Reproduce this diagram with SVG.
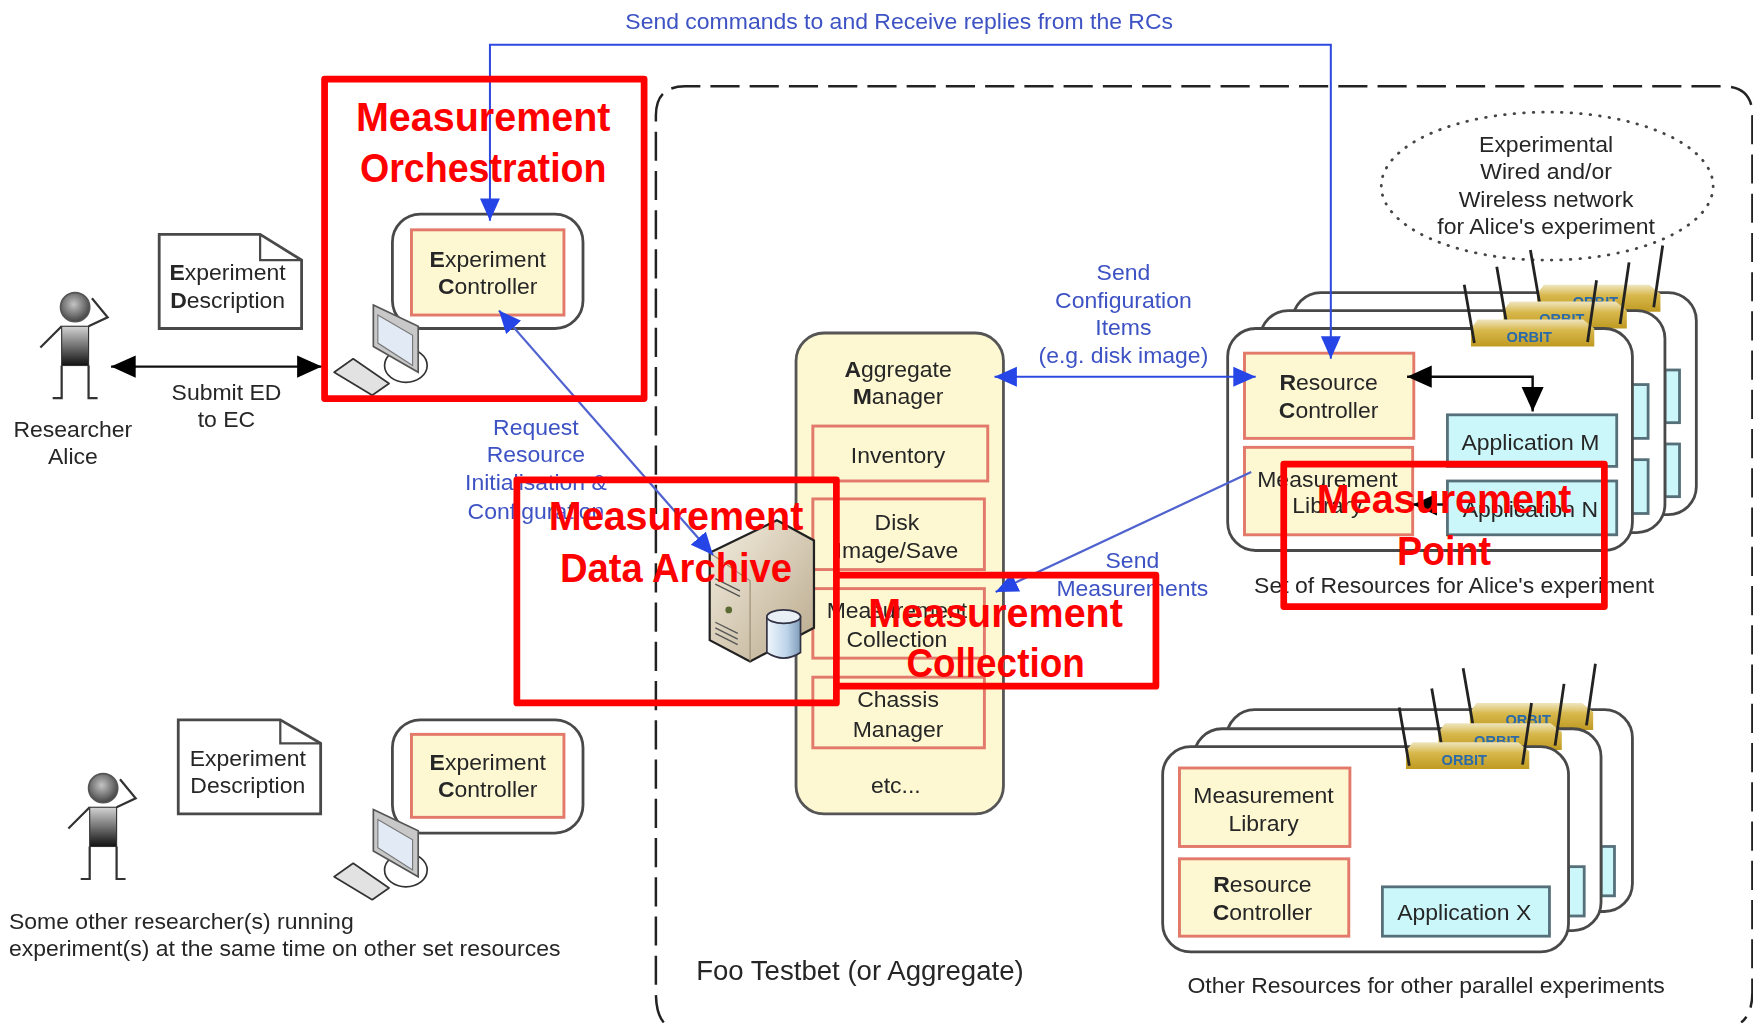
<svg xmlns="http://www.w3.org/2000/svg" width="1758" height="1023" viewBox="0 0 1758 1023">
<style>
text{font-family:"Liberation Sans",Arial,sans-serif;text-anchor:middle}
.t{font-size:20.500px;fill:#262626}
.l{font-size:20.500px;fill:#262626;text-anchor:start}
.b{font-size:20.500px;fill:#3d52c4}
.r{font-size:37px;font-weight:bold;fill:#f00}
.h{font-weight:bold}
.y{fill:#fdf8d2;stroke:#e2796a;stroke-width:2.600}
.c{fill:#ccf7fa;stroke:#56707a;stroke-width:2.500}
.w{fill:#fff;stroke:#4a4a4a;stroke-width:2.500}
.rb{fill:none;stroke:#f00;stroke-width:6;stroke-linejoin:round}
.bl{fill:none;stroke:#2f4ae0;stroke-width:1.800}
.bd{fill:none;stroke:#4f62d0;stroke-width:2}
.k{fill:none;stroke:#111;stroke-width:2.200}
.o{font-size:13px;font-weight:bold;fill:#2a6aa8}
</style>
<defs>
<filter id="soft" x="0" y="0" width="100%" height="100%"><feGaussianBlur stdDeviation="0.550"/></filter>
<marker id="ab" markerUnits="userSpaceOnUse" markerWidth="20" markerHeight="20" viewBox="0 0 18 18" refX="18" refY="9" orient="auto-start-reverse"><path d="M0,1L18,9L0,17Z" fill="#2544e6"/></marker>
<marker id="ak" markerUnits="userSpaceOnUse" markerWidth="22" markerHeight="22" viewBox="0 0 20 20" refX="20" refY="10" orient="auto-start-reverse"><path d="M0,1L20,10L0,19Z" fill="#000"/></marker>
<linearGradient id="gb" x1="0" y1="0" x2="0" y2="1"><stop offset="0" stop-color="#d4d4d4"/><stop offset="1" stop-color="#111"/></linearGradient>
<radialGradient id="gh" cx=".45" cy=".4" r=".6"><stop offset="0" stop-color="#c4c4c4"/><stop offset="1" stop-color="#444"/></radialGradient>
<linearGradient id="gs" x1="0" y1="0" x2="1" y2="1"><stop offset="0" stop-color="#f4eee0"/><stop offset="1" stop-color="#b9a98c"/></linearGradient>
<linearGradient id="gc" x1="0" y1="0" x2="1" y2="0"><stop offset="0" stop-color="#f0f6fb"/><stop offset=".6" stop-color="#bcd4ea"/><stop offset="1" stop-color="#7f9cb8"/></linearGradient>
<linearGradient id="gr" x1="0" y1="0" x2="0" y2="1"><stop offset="0" stop-color="#efe6c0"/><stop offset=".4" stop-color="#d8b84c"/><stop offset="1" stop-color="#bf9a22"/></linearGradient>
<g id="person">
<circle cx="67" cy="274" r="13" fill="url(#gh)" stroke="#555" stroke-width="1.500"/>
<path d="M55,291L36,310M79,291L96,283L82,266M55,326V355H47M79,326V355H87" fill="none" stroke="#333" stroke-width="2"/>
<rect x="55" y="291" width="24" height="35" fill="url(#gb)" stroke="#333" stroke-width="1"/>
</g>
<g id="computer">
<ellipse cx="362" cy="326" rx="19" ry="15" fill="#fff" stroke="#333" stroke-width="1.500"/>
<path d="M333,272L373,291V332L333,309Z" fill="#c8c8c8" stroke="#555" stroke-width="1.500"/>
<path d="M337,281L368,299V326L337,306Z" fill="#e2eaf6" stroke="#777"/>
<path d="M298,332L315,320L347,342L332,352.500Z" fill="#e2e2e2" stroke="#333" stroke-width="1.500" stroke-linejoin="round"/>
</g>
<g id="router">
<path d="M6,0H100L110,8V24H0V8Z" fill="url(#gr)"/>
<text class="o" x="52" y="20">ORBIT</text>
<path d="M-6,-31L3,21M112,-35L104,20" fill="none" stroke="#222" stroke-width="2.500"/>
</g>
</defs>
<rect width="1758" height="1023" fill="#fff"/>
<g transform="scale(1.12117)">
<g filter="url(#soft)">

<g id="testbed"><path d="M592,912Q585,904 585,885V103Q585,77 611,77H1537Q1563,77 1563,103V885Q1563,904 1553,912" fill="none" stroke="#222" stroke-width="2.200" stroke-dasharray="26 9"/>
<text class="t" style="font-size:24.600px" x="767" y="874">Foo Testbet (or Aggregate)</text></g>

<g id="alice"><use href="#person"/><text class="t" x="65" y="390">Researcher</text><text class="t" x="65" y="414">Alice</text></g>
<g id="ed1"><path d="M142,209H232L269,232V293H142Z" fill="#fff" stroke="#4a4a4a" stroke-width="2.500"/><path d="M232,209V232H269" fill="none" stroke="#4a4a4a" stroke-width="2"/><text class="t" x="203" y="250"><tspan class="h">E</tspan>xperiment</text><text class="t" x="203" y="275"><tspan class="h">D</tspan>escription</text></g>
<g id="ec1"><rect class="w" x="350" y="191" width="170" height="102" rx="25"/><rect class="y" x="367" y="205" width="136" height="76"/><text class="t" x="435" y="238"><tspan class="h">E</tspan>xperiment</text><text class="t" x="435" y="262"><tspan class="h">C</tspan>ontroller</text><use href="#computer"/></g>
<g id="other"><use href="#person" x="25" y="429"/><text class="l" x="8" y="829">Some other researcher(s) running</text><text class="l" x="8" y="853">experiment(s) at the same time on other set resources</text></g>
<g id="ed2"><path d="M159,642H250L286,663V726H159Z" fill="#fff" stroke="#4a4a4a" stroke-width="2.500"/><path d="M250,642V663H286" fill="none" stroke="#4a4a4a" stroke-width="2"/><text class="t" x="221" y="683">Experiment</text><text class="t" x="221" y="707">Description</text></g>
<g id="ec2"><rect class="w" x="350" y="642" width="170" height="101" rx="25"/><rect class="y" x="367" y="655" width="136" height="74"/><text class="t" x="435" y="687"><tspan class="h">E</tspan>xperiment</text><text class="t" x="435" y="711"><tspan class="h">C</tspan>ontroller</text><use href="#computer" y="450"/></g>

<g id="am"><rect x="710" y="297" width="185" height="429" rx="25" fill="#fdf8d2" stroke="#555" stroke-width="2.500"/>
<text class="t" x="801" y="336"><tspan class="h">A</tspan>ggregate</text><text class="t" x="801" y="360"><tspan class="h">M</tspan>anager</text>
<rect class="y" x="725" y="380" width="156" height="49"/><text class="t" x="801" y="413">Inventory</text>
<rect class="y" x="725" y="445" width="153" height="63"/><text class="t" x="800" y="473">Disk</text><text class="t" x="800" y="498">Image/Save</text>
<rect class="y" x="725" y="525" width="153" height="62"/><text class="t" x="800" y="551">Measurement</text><text class="t" x="800" y="577">Collection</text>
<rect class="y" x="725" y="604" width="153" height="63"/><text class="t" x="801" y="631">Chassis</text><text class="t" x="801" y="657">Manager</text>
<text class="t" x="799" y="707">etc...</text></g>

<g id="server"><path d="M633,493L693,464L726,482V560L669,590L633,571Z" fill="url(#gs)" stroke="#222" stroke-width="2"/>
<path d="M633,493L669,518V590" fill="none" stroke="#9a8b72" stroke-width="1"/>
<path d="M638,516L660,527M638,521L660,532M638,565L658,575M638,560L658,570M638,555L658,565" stroke="#555" stroke-width="1.200"/>
<circle cx="650" cy="544" r="3" fill="#5a6a30"/>
<path d="M684,550V582Q699,592 714,582V550Z" fill="url(#gc)" stroke="#334" stroke-width="1.500"/><ellipse cx="699" cy="550" rx="15" ry="6" fill="#e8f0f6" stroke="#334" stroke-width="1.500"/></g>

<g id="net"><ellipse cx="1380" cy="166" rx="148" ry="66" fill="none" stroke="#444" stroke-width="2.500" stroke-linecap="round" stroke-dasharray="0.500 8"/>
<text class="t" x="1379" y="136">Experimental</text><text class="t" x="1379" y="160">Wired and/or</text><text class="t" x="1379" y="185">Wireless network</text><text class="t" x="1379" y="209">for Alice's experiment</text></g>

<g id="set-back"><rect class="w" x="1153" y="261" width="360" height="198" rx="25"/><rect class="c" x="1485" y="330" width="13" height="47"/><rect class="c" x="1485" y="396" width="13" height="47"/><use href="#router" x="1371" y="254"/></g>
<g id="set-mid"><rect class="w" x="1124" y="277" width="361" height="198" rx="25"/><rect class="c" x="1455" y="343" width="15" height="48"/><rect class="c" x="1455" y="410" width="15" height="48"/><use href="#router" x="1341" y="269"/></g>
<g id="set-front"><rect class="w" x="1095" y="293" width="361" height="198" rx="25"/><use href="#router" x="1312" y="285"/>
<rect class="y" x="1110" y="315" width="151" height="76"/><text class="t" x="1185" y="348"><tspan class="h">R</tspan>esource</text><text class="t" x="1185" y="373"><tspan class="h">C</tspan>ontroller</text>
<rect class="y" x="1110" y="399" width="150" height="78"/><text class="t" x="1184" y="434">Measurement</text><text class="t" x="1184" y="458">Library</text>
<rect class="c" x="1291" y="370" width="151" height="46"/><text class="t" x="1365" y="401">Application M</text>
<rect class="c" x="1291" y="429" width="151" height="48"/><text class="t" x="1365" y="461">Application N</text>
<text class="t" x="1297" y="529">Set of Resources for Alice's experiment</text></g>

<g id="par-back"><rect class="w" x="1094" y="633" width="362" height="180" rx="25"/><rect class="c" x="1428" y="755" width="12" height="44"/><use href="#router" x="1311" y="627"/></g>
<g id="par-mid"><rect class="w" x="1065" y="650" width="363" height="180" rx="25"/><rect class="c" x="1399" y="773" width="14" height="44"/><use href="#router" x="1283" y="645"/></g>
<g id="par-front"><rect class="w" x="1037" y="666" width="362" height="183" rx="25"/><use href="#router" x="1254" y="662"/>
<rect class="y" x="1052" y="685" width="152" height="70"/><text class="t" x="1127" y="716">Measurement</text><text class="t" x="1127" y="741">Library</text>
<rect class="y" x="1052" y="766" width="151" height="69"/><text class="t" x="1126" y="796"><tspan class="h">R</tspan>esource</text><text class="t" x="1126" y="821"><tspan class="h">C</tspan>ontroller</text>
<rect class="c" x="1233" y="791" width="149" height="44"/><text class="t" x="1306" y="821">Application X</text>
<text class="t" x="1272" y="886">Other Resources for other parallel experiments</text></g>

<g id="connectors">
<path class="bl" d="M437,197V40H1187V320" marker-start="url(#ab)" marker-end="url(#ab)"/>
<path class="bd" d="M445,277L636,495" marker-start="url(#ab)" marker-end="url(#ab)"/>
<path class="bl" d="M887,336H1120" marker-start="url(#ab)" marker-end="url(#ab)"/>
<path class="bd" d="M1116,421L888,528" marker-end="url(#ab)"/>
<path class="k" d="M99,327H287" marker-start="url(#ak)" marker-end="url(#ak)"/>
<path class="k" d="M1255,336H1367V367" marker-start="url(#ak)" marker-end="url(#ak)"/>
<path class="k" d="M1291,450H1260" marker-end="url(#ak)"/>
</g>

<g id="labels">
<text class="b" x="802" y="26">Send commands to and Receive replies from the RCs</text>
<text class="t" x="202" y="357">Submit ED</text><text class="t" x="202" y="381">to EC</text>
<text class="b" x="478" y="388">Request</text><text class="b" x="478" y="412">Resource</text><text class="b" x="478" y="437">Initialisation &amp;</text><text class="b" x="478" y="463">Configuration</text>
<text class="b" x="1002" y="250">Send</text><text class="b" x="1002" y="275">Configuration</text><text class="b" x="1002" y="299">Items</text><text class="b" x="1002" y="324">(e.g. disk image)</text>
<text class="b" x="1010" y="507">Send</text><text class="b" x="1010" y="532">Measurements</text>
</g>
</g>

<g id="mo"><rect class="rb" x="289.500" y="70.500" width="285" height="285"/><text class="r" x="431" y="117" textLength="227" lengthAdjust="spacingAndGlyphs">Measurement</text><text class="r" x="431" y="162" textLength="220" lengthAdjust="spacingAndGlyphs">Orchestration</text></g>
<g id="mda"><rect class="rb" x="461" y="428" width="285" height="199"/><text class="r" x="603" y="473" textLength="227" lengthAdjust="spacingAndGlyphs">Measurement</text><text class="r" x="603" y="519" textLength="207" lengthAdjust="spacingAndGlyphs">Data Archive</text></g>
<g id="mc"><path class="rb" d="M746,513H1031V612H746"/><text class="r" x="888" y="559" textLength="227" lengthAdjust="spacingAndGlyphs">Measurement</text><text class="r" x="888" y="604" textLength="159" lengthAdjust="spacingAndGlyphs">Collection</text></g>
<g id="mp"><rect class="rb" x="1145" y="414" width="286" height="127"/><text class="r" x="1288" y="458" textLength="227" lengthAdjust="spacingAndGlyphs">Measurement</text><text class="r" x="1288" y="504" textLength="84" lengthAdjust="spacingAndGlyphs">Point</text></g>
</g>
</svg>
